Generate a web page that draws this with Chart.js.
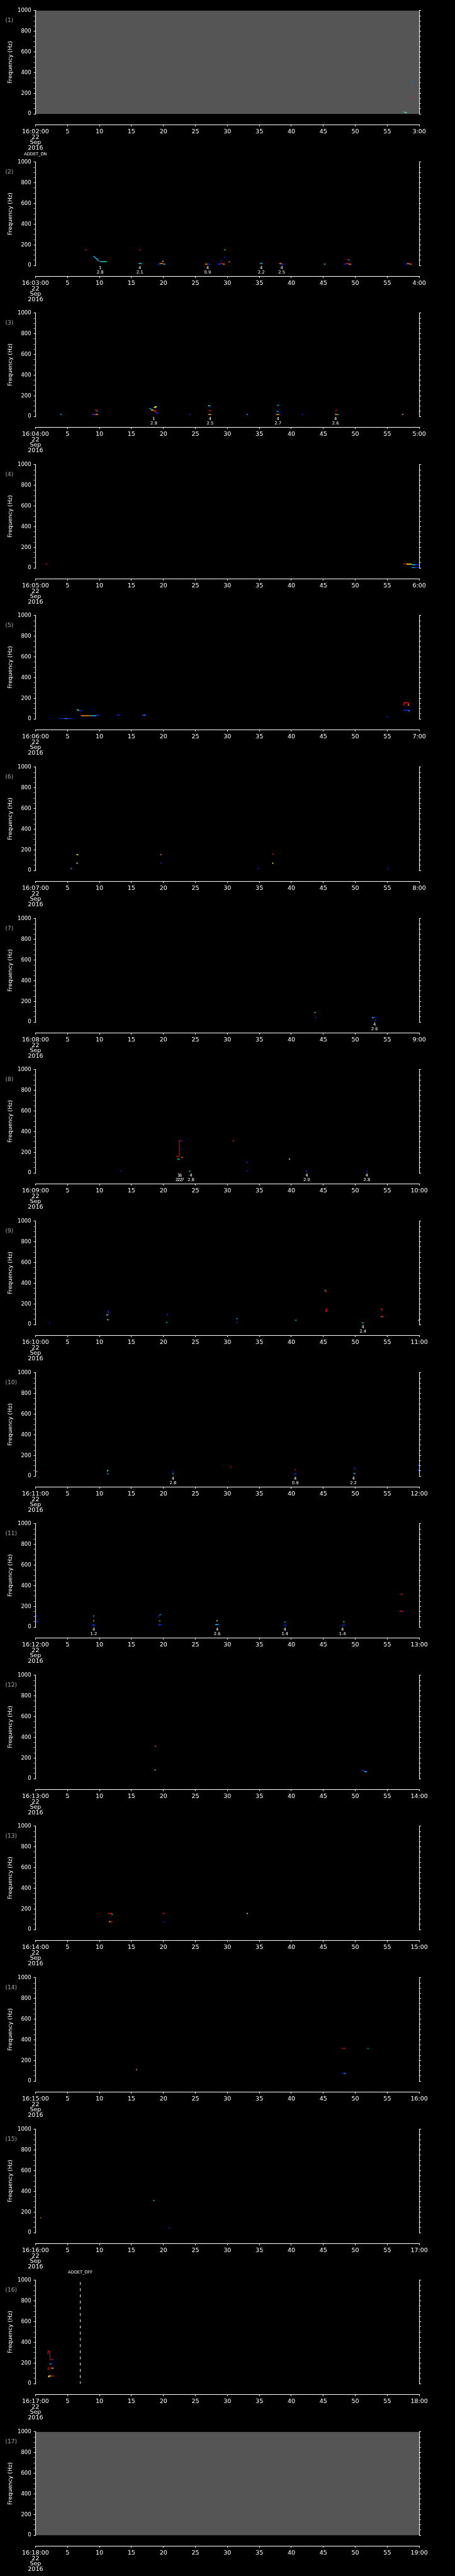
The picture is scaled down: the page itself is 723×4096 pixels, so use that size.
<!DOCTYPE html>
<html>
<head>
<meta charset="utf-8">
<script src="https://cdn.jsdelivr.net/npm/chart.js@4.4.0/dist/chart.umd.min.js"></script>
<style>
  html, body { margin: 0; padding: 0; background: #000; }
  #wrap { position: relative; width: 723px; height: 4096px; overflow: hidden; background: #000; }
  #wrap canvas { position: absolute; left: 0; }
</style>
</head>
<body>
<div id="wrap"></div>
<script>
// ---- data ------------------------------------------------------------
const hour = 16;
const startMinutes = [2, 3, 4, 5, 6, 7, 8, 9, 10, 11, 12, 13, 14, 15, 16, 17, 18];
const dateLines = ['22', 'Sep', '2016'];
const freqMax = 1000, freqMajor = 200, freqMinor = 50;
const timeSpan = 60, timeStep = 5;
// blue, cyan, green, yellow, orange, red, dark red
const palette = ['#0028ff', '#00c0ff', '#00ff90', '#ffff00', '#ff8c00', '#ff0000', '#b40000'];
const greyPanels = [1, 17];
// [panel, second, text]
const events = [[2, 0, 'ADDET_ON'], [16, 7, 'ADDET_OFF']];

// strokes: [t0, t1, freq, colour]   traces: [colour, [t...], [freq...]]   notes: [t, top, bottom]
const strokes1 = [[57.55, 57.8, 18, 1], [57.75, 57.9, 13, 3], [57.9, 58.1, 13, 1], [58.85, 58.95, 313, 1], [58.95, 59.05, 313, 0], [59.05, 59.2, 150, 5]];

const strokes2 = [
  [7.7, 7.85, 152, 0], [7.85, 8.0, 152, 5],
  [9.85, 10.05, 44, 5], [10.05, 10.6, 37, 1], [10.6, 11.1, 37, 2],
  [16.25, 16.45, 152, 5], [16.1, 16.4, 19, 1], [16.4, 16.6, 19, 2],
  [19.1, 19.4, 14, 0], [19.4, 19.9, 19, 4], [19.9, 20.3, 14, 1], [19.8, 20.0, 40, 3],
  [26.5, 26.9, 14, 4], [26.9, 27.3, 14, 0],
  [28.5, 29.0, 14, 0], [28.9, 29.3, 19, 5], [29.3, 29.6, 14, 4],
  [29.5, 29.65, 152, 2], [29.65, 29.75, 152, 5], [30.2, 30.4, 36, 4],
  [35.1, 35.5, 19, 1],
  [38.1, 38.5, 19, 4], [38.4, 38.9, 14, 0],
  [45.1, 45.3, 14, 2],
  [48.2, 48.6, 14, 0], [48.5, 48.9, 19, 5], [48.9, 49.3, 14, 4], [49.2, 49.5, 14, 0],
  [48.6, 48.8, 57, 5], [48.9, 49.1, 53, 1],
  [57.8, 58.1, 14, 0], [58.1, 58.4, 19, 4], [58.3, 58.6, 17, 5], [58.5, 58.8, 14, 4]
];
const traces2 = [[1, [9.07, 9.3, 9.6, 9.85], [89, 80, 62, 42]], [0, [28.95, 29.1], [40, 56]], [0, [29.5, 29.7], [78, 84]]];
const notes2 = [[10.1, '1', '2.8'], [16.3, '4', '2.1'], [26.9, '4', '0.9'], [35.3, '4', '2.2'], [38.5, '4', '2.5']];

const strokes3 = [
  [3.9, 4.1, 20, 1],
  [8.8, 9.1, 20, 0], [9.1, 9.4, 20, 5], [9.4, 9.8, 19, 4], [9.3, 9.6, 60, 5],
  [18.1, 18.4, 62, 3], [18.75, 19.2, 34, 0],
  [24.0, 24.2, 20, 0],
  [27.3, 27.5, 96, 0], [27.1, 27.4, 57, 5], [27.0, 27.5, 20, 4],
  [33.0, 33.2, 20, 1],
  [37.8, 38.05, 107, 1], [37.7, 37.9, 48, 2], [37.9, 38.2, 44, 0], [37.6, 38.1, 20, 4], [38.1, 38.3, 20, 0],
  [41.6, 41.8, 20, 0],
  [46.9, 47.1, 57, 5], [46.8, 47.2, 20, 4], [47.2, 47.4, 18, 1],
  [57.3, 57.5, 20, 4], [57.5, 57.6, 20, 5],
  [59.85, 60, 39, 5]
];
const traces3 = [[1, [9.6, 9.7], [55, 48]], [1, [17.8, 17.95, 18.1], [78, 75, 68]], [5, [18.4, 18.7, 18.7], [57, 57, 38]],
  [3, [18.5, 18.7, 18.75, 18.95], [88, 88, 94, 94]], [2, [27.0, 27.1, 27.3], [100, 104, 104]]];
const notes3 = [[18.5, '1', '2.9'], [27.3, '4', '2.5'], [37.9, '4', '2.7'], [46.9, '4', '2.6']];

const strokes4 = [[1.6, 1.8, 41, 5], [57.5, 58.0, 41, 5], [58.0, 58.8, 37, 3], [58.8, 59.4, 32, 1], [59.4, 60, 32, 0], [58.8, 59.3, 3, 1], [59.3, 60, 3, 0]];

const strokes5 = [[3.7, 4.6, 3, 0], [4.6, 5.0, 3, 1], [5.0, 5.8, 3, 0], [6.8, 7.3, 80, 0], [7.1, 8.5, 32, 4], [8.5, 9.5, 32, 1], [9.5, 10, 38, 0],
  [12.7, 13.2, 39, 0], [16.9, 17.1, 36, 1], [54.9, 55.1, 21, 0], [58.2, 58.35, 135, 3], [57.5, 58.3, 85, 0], [58.3, 58.5, 78, 1]];
const traces5 = [[1, [6.4, 6.7], [90, 88]], [3, [6.6, 6.8], [86, 82]], [0, [16.6, 16.9, 17.3], [33, 36, 39]], [5, [57.55, 57.6, 58.3, 58.35], [133, 156, 156, 135]]];

const strokes6 = [[5.5, 5.7, 20, 1], [6.4, 6.7, 153, 3], [6.4, 6.6, 71, 3], [6.6, 6.7, 71, 0], [19.5, 19.7, 153, 4], [19.5, 19.7, 71, 0],
  [34.7, 34.9, 20, 0], [37.0, 37.2, 158, 5], [37.0, 37.2, 71, 3], [55.0, 55.2, 20, 0]];

const strokes7 = [[43.6, 43.8, 94, 2], [43.7, 43.9, 43, 0], [52.6, 52.9, 43, 1], [52.9, 53.2, 42, 0], [52.95, 53.15, 18, 0]];
const notes7 = [[53.0, '4', '2.6']];

const strokes8 = [[13.2, 13.4, 21, 0], [22.75, 23.0, 311, 0], [22.8, 22.95, 233, 0], [22.2, 22.35, 135, 2], [22.35, 22.5, 133, 1], [22.8, 23.0, 152, 4],
  [24.0, 24.2, 18, 2], [30.8, 30.95, 311, 5], [30.95, 31.05, 311, 0], [33.0, 33.2, 18, 0], [39.6, 39.8, 135, 3], [42.2, 42.5, 18, 0], [51.7, 51.9, 18, 0]];
const traces8 = [[6, [22.0, 22.5, 22.5, 22.9], [160, 160, 311, 311]], [0, [32.95, 33.2], [108, 100]]];
const notes8 = [[22.4, '1', '2.2'], [22.7, '6', '2.7'], [24.3, '4', '2.8'], [42.4, '4', '2.0'], [51.8, '4', '2.8']];

const strokes9 = [[2.1, 2.3, 16, 0], [11.1, 11.3, 93, 3], [11.2, 11.4, 47, 3], [20.4, 20.6, 20, 1], [31.4, 31.6, 58, 1], [31.4, 31.6, 20, 0],
  [54.15, 54.3, 135, 0], [54.0, 54.2, 78, 4], [54.2, 54.4, 75, 5], [51.0, 51.3, 16, 1], [59.8, 60, 42, 4]];
const traces9 = [[0, [11.3, 11.35, 11.5], [93, 130, 130]], [0, [20.5, 20.7], [103, 93]], [1, [40.6, 40.8], [40, 44]], [2, [45.2, 45.35], [333, 328]],
  [5, [45.35, 45.5], [322, 315]], [5, [45.3, 45.45, 45.45], [130, 130, 157]], [5, [54.05, 54.1, 54.2], [160, 145, 140]]];
const notes9 = [[51.2, '4', '2.4']];

const strokes10 = [[0.1, 0.3, 45, 4], [11.2, 11.4, 22, 1], [21.4, 21.6, 40, 0], [21.4, 21.6, 22, 1], [30.4, 30.6, 90, 5], [40.5, 40.7, 63, 5],
  [40.4, 40.8, 22, 0], [49.7, 50.0, 26, 1], [59.8, 60, 108, 0]];
const traces10 = [[2, [11.25, 11.3, 11.4], [45, 58, 58]], [0, [49.85, 49.9], [63, 86]], [0, [59.8, 59.95], [63, 50]]];
const notes10 = [[21.5, '4', '2.8'], [40.6, '4', '0.9'], [49.7, '4', '2.2']];

const strokes11 = [[9.0, 9.2, 107, 1], [9.0, 9.2, 61, 4], [8.8, 9.3, 20, 0], [9.0, 9.2, 20, 1], [19.3, 19.5, 59, 4], [19.2, 19.7, 22, 0], [19.3, 19.5, 22, 1],
  [28.3, 28.5, 61, 3], [28.1, 28.6, 24, 1], [28.3, 28.5, 24, 0], [38.9, 39.1, 48, 1], [38.8, 39.2, 20, 0], [48.1, 48.3, 52, 2], [47.9, 48.4, 20, 0],
  [56.9, 57.3, 317, 6], [57.3, 57.4, 317, 1], [57.35, 57.5, 148, 0]];
const traces11 = [[0, [0.15, 0.2, 0.3], [98, 111, 111]], [0, [0.1, 0.3, 0.35], [60, 55, 50]], [0, [19.2, 19.4], [98, 115]], [1, [19.4, 19.6], [118, 122]],
  [5, [56.9, 57.2, 57.35], [155, 155, 150]]];
const notes11 = [[9.1, '4', '1.2'], [28.4, '4', '2.6'], [39.0, '4', '1.4'], [48.0, '4', '1.4']];

const strokes12 = [[18.6, 18.75, 315, 5], [18.75, 18.85, 315, 2], [18.6, 18.75, 84, 3], [18.75, 18.9, 84, 0]];
const traces12 = [[0, [51.0, 51.2, 51.4], [81, 81, 72]], [1, [51.4, 51.8], [70, 67]]];

const strokes13 = [[11.3, 12.0, 156, 5], [11.5, 11.7, 77, 3], [11.7, 12.0, 75, 5], [19.9, 20.15, 156, 5], [20.0, 20.2, 74, 0], [33.0, 33.2, 156, 3]];
const traces13 = [[2, [11.95, 12.0], [150, 142]]];

const strokes14 = [[15.7, 15.9, 111, 4], [47.8, 48.3, 317, 6], [48.3, 48.4, 317, 2], [47.9, 48.3, 77, 0], [48.2, 48.5, 75, 1], [51.9, 52.05, 317, 1]];

const strokes15 = [[0.85, 0.95, 146, 0], [18.4, 18.6, 311, 1], [20.8, 21.05, 47, 0]];
const traces15 = [[4, [0.8, 0.85], [140, 148]]];

const strokes16 = [[2.7, 2.8, 234, 0], [2.55, 2.8, 150, 3], [2.4, 2.86, 74, 5]];
const traces16 = [[0, [1.84, 1.9], [282, 290]], [6, [1.96, 1.96, 2.2, 2.27, 2.27, 2.75], [290, 316, 316, 300, 234, 234]], [1, [2.2, 2.4], [190, 192]],
  [0, [2.4, 2.65], [193, 200]], [6, [1.96, 1.96, 2.55], [134, 152, 152]], [3, [2.07, 2.07, 2.4], [60, 74, 74]]];

const strokesByPanel = [null, strokes1, strokes2, strokes3, strokes4, strokes5, strokes6, strokes7, strokes8, strokes9, strokes10,
  strokes11, strokes12, strokes13, strokes14, strokes15, strokes16, []];
const tracesByPanel = { 2: traces2, 3: traces3, 5: traces5, 8: traces8, 9: traces9, 10: traces10, 11: traces11, 12: traces12, 13: traces13, 15: traces15, 16: traces16 };
const notesByPanel = { 2: notes2, 3: notes3, 7: notes7, 8: notes8, 9: notes9, 10: notes10, 11: notes11 };

// ---- layout (reference px * S) -------------------------------------
const S = 0.705;
const W = 723;
const panelPitch = 5802 / 17 * S;
const canvasH = 241;
const fam = '"DejaVu Sans", sans-serif';
Chart.defaults.font.family = fam;
Chart.defaults.color = '#fff';

const pad2 = m => (m < 10 ? '0' : '') + m;
const minorDash = ctx => (ctx.tick && ctx.tick.value % freqMajor !== 0) ? [2.3 * S, 20] : [];

const panelDecor = {
  id: 'panelDecor',
  beforeDraw(chart, args, o) {
    const { ctx, chartArea: a } = chart;
    ctx.save();
    ctx.fillStyle = '#000';
    ctx.fillRect(0, 0, chart.width, chart.height);
    if (o.grey) {
      ctx.fillStyle = '#555555';
      ctx.fillRect(a.left, a.top, a.right - a.left, a.bottom - a.top);
    }
    ctx.restore();
  },
  afterDraw(chart, args, o) {
    const { ctx, chartArea: a } = chart;
    const x = chart.scales.x;
    ctx.save();
    ctx.textBaseline = 'middle';
    ctx.textAlign = 'left';
    ctx.fillStyle = '#a8a8a8';
    ctx.font = '9px ' + fam;
    ctx.fillText('(' + o.num + ')', 12 * S, 47 * S);
    ctx.fillStyle = '#fff';
    ctx.textAlign = 'center';
    ctx.font = '6.8px ' + fam;
    for (const [t, l1, l2] of o.notes) {
      const px = x.getPixelForValue(t);
      ctx.fillText(l1, px, a.bottom + 5.7 * S);
      ctx.fillText(l2, px, a.bottom + 15 * S);
    }
    ctx.font = '6.6px ' + fam;
    for (const [t, label] of o.events) {
      ctx.fillText(label, x.getPixelForValue(t), 6.5 * S);
    }
    ctx.restore();
  }
};

function buildDatasets(n) {
  const sets = [];
  for (const [t0, t1, f, c] of strokesByPanel[n]) {
    sets.push({ data: [{ x: t0, y: f }, { x: t1, y: f }], borderColor: palette[c], borderWidth: 1.5 });
  }
  for (const [c, ts, fs] of (tracesByPanel[n] || [])) {
    sets.push({ data: ts.map((t, i) => ({ x: t, y: fs[i] })), borderColor: palette[c], borderWidth: 1.5 });
  }
  for (const [p, t] of events) {
    if (p === n) {
      sets.push({ data: [{ x: t, y: 983 }, { x: t, y: 0 }], borderColor: '#fff', borderWidth: 1, borderDash: [6 * S, 8 * S] });
    }
  }
  return sets.map(d => Object.assign({ showLine: true, pointRadius: 0, fill: false, tension: 0, borderCapStyle: 'butt' }, d));
}

const wrap = document.getElementById('wrap');
startMinutes.forEach((m, i) => {
  const n = i + 1;
  const cv = document.createElement('canvas');
  cv.width = W; cv.height = canvasH;
  cv.style.width = W + 'px'; cv.style.height = canvasH + 'px';
  cv.style.top = Math.round(i * panelPitch) + 'px';
  wrap.appendChild(cv);

  new Chart(cv, {
    type: 'scatter',
    data: { datasets: buildDatasets(n) },
    options: {
      responsive: false,
      animation: false,
      events: [],
      layout: { padding: { top: 24 * S, left: 0, right: W - 945 * S - 10, bottom: 0 } },
      plugins: {
        legend: { display: false },
        tooltip: { enabled: false },
        panelDecor: {
          num: n,
          grey: greyPanels.includes(n),
          notes: notesByPanel[n] || [],
          events: events.filter(e => e[0] === n).map(e => [e[1], e[2]])
        }
      },
      scales: {
        x: {
          type: 'linear', position: 'bottom', weight: 0, min: 0, max: timeSpan,
          grid: { display: false }, border: { display: false }, ticks: { display: false },
          afterFit: s => { s.height = 24 * S; }
        },
        x2: {
          type: 'linear', position: 'bottom', weight: 1, min: 0, max: timeSpan,
          border: { color: '#fff', width: 1 },
          grid: { drawOnChartArea: false, color: '#fff', tickLength: 4 * S, tickWidth: 1 },
          ticks: {
            stepSize: timeStep, autoSkip: false, maxRotation: 0, minRotation: 0, color: '#fff', padding: 4.8,
            font: { size: 9.5, lineHeight: 0.89 },
            callback: v => v === 0 ? [hour + ':' + pad2(m) + ':00'].concat(dateLines) : v === timeSpan ? (m + 1) + ':00' : String(v)
          },
          afterFit: s => { s.height = canvasH - 281 * S; }
        },
        y: {
          min: 0, max: freqMax,
          border: { color: '#fff', width: 1 },
          grid: { drawOnChartArea: false, color: '#fff', tickLength: 4 * S, tickWidth: 1, tickBorderDash: minorDash },
          ticks: {
            stepSize: freqMinor, autoSkip: false, color: '#fff', padding: 3.9, font: { size: 8.5 },
            callback: v => v % freqMajor === 0 ? String(v) : ''
          },
          title: { display: true, text: 'Frequency (Hz)', color: '#fff', font: { size: 9 }, padding: { top: 10.8, bottom: 0 } },
          afterFit: s => { s.width = 80 * S; }
        },
        y2: {
          position: 'right', min: 0, max: freqMax,
          border: { color: '#fff', width: 1 },
          grid: { drawOnChartArea: false, color: '#fff', tickLength: 4 * S, tickWidth: 1, tickBorderDash: minorDash },
          ticks: { stepSize: freqMinor, autoSkip: false, callback: () => '', padding: 0 },
          afterFit: s => { s.width = 10; }
        }
      }
    },
    plugins: [panelDecor]
  });
});
</script>
</body>
</html>
